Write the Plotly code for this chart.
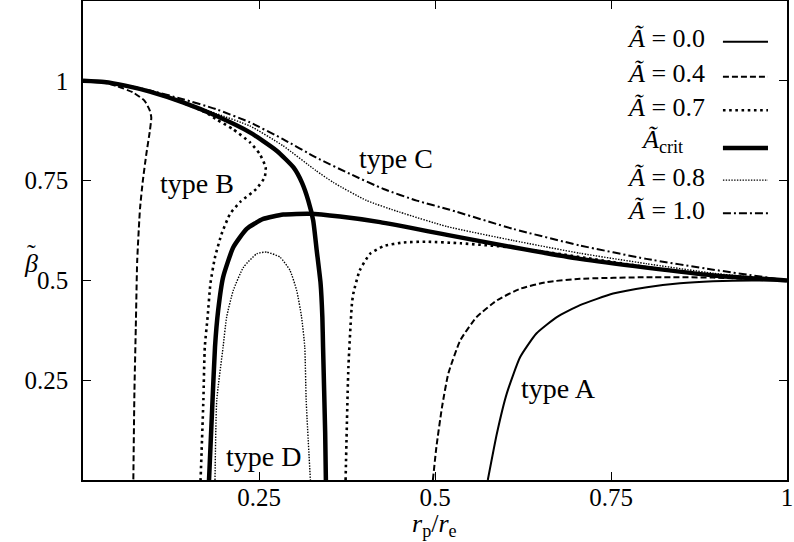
import plotly.graph_objects as go

# ---------------- data ----------------
# A = 0.0 (type A branch)
x_a00 = [0.575, 0.588, 0.602, 0.621, 0.644, 0.673, 0.706, 0.753, 0.801, 0.848, 0.895, 0.95, 1.0]
y_a00 = [0.0, 0.117, 0.217, 0.308, 0.367, 0.408, 0.438, 0.467, 0.483, 0.493, 0.498, 0.5, 0.5]

# A = 0.4 (type B branch, left)
x_a04_b = [0.0, 0.025, 0.047, 0.071, 0.0875, 0.095, 0.097, 0.095, 0.09, 0.085, 0.081, 0.077, 0.075, 0.073, 0.0715]
y_a04_b = [1.0, 0.997, 0.9875, 0.971, 0.95, 0.925, 0.908, 0.875, 0.817, 0.75, 0.68, 0.55, 0.383, 0.217, 0.0]
# A = 0.4 (type A branch, right)
x_a04_a = [0.497, 0.502, 0.510, 0.519, 0.536, 0.559, 0.588, 0.621, 0.659, 0.706, 0.801, 0.895, 1.0]
y_a04_a = [0.0, 0.083, 0.183, 0.267, 0.35, 0.408, 0.45, 0.479, 0.496, 0.504, 0.508, 0.507, 0.5]

# A = 0.7 (type B branch, left)
x_a07_b = [0.0, 0.03, 0.06, 0.095, 0.142, 0.175, 0.189, 0.213, 0.237, 0.251, 0.2595, 0.258, 0.246,
           0.223, 0.209, 0.197, 0.1875, 0.181, 0.177, 0.173, 0.171, 0.167]
y_a07_b = [1.0, 0.997, 0.988, 0.973, 0.945, 0.92, 0.904, 0.879, 0.846, 0.817, 0.783, 0.758, 0.729,
           0.696, 0.667, 0.617, 0.558, 0.492, 0.408, 0.333, 0.2, 0.0]
# A = 0.7 (type A branch, right)
x_a07_a = [0.373, 0.377, 0.382, 0.384, 0.393, 0.408, 0.427, 0.455, 0.488, 0.536, 0.607, 0.659, 0.753, 0.848, 0.943, 1.0]
y_a07_a = [0.0, 0.283, 0.442, 0.467, 0.525, 0.567, 0.586, 0.595, 0.597, 0.593, 0.583, 0.571, 0.546, 0.521, 0.507, 0.5]

# A_crit (two crossing branches)
x_crit_1 = [0.0, 0.03, 0.06, 0.095, 0.142, 0.189, 0.237, 0.275, 0.299, 0.311, 0.32, 0.327, 0.332, 0.3375, 0.340, 0.341, 0.344, 0.345]
y_crit_1 = [1.0, 0.997, 0.988, 0.973, 0.946, 0.9125, 0.871, 0.825, 0.783, 0.745, 0.70, 0.65, 0.575, 0.492, 0.408, 0.333, 0.117, 0.0]
x_crit_2 = [0.179, 0.184, 0.1875, 0.192, 0.199, 0.2135, 0.2325, 0.256, 0.2845, 0.322, 0.365, 0.422, 0.517, 0.611, 0.706, 0.80, 0.895, 1.0]
y_crit_2 = [0.0, 0.2, 0.333, 0.425, 0.508, 0.583, 0.629, 0.654, 0.665, 0.667, 0.66, 0.646, 0.614, 0.583, 0.554, 0.532, 0.5125, 0.5]

# A = 0.8 (type C branch)
x_a08_c = [0.0, 0.03, 0.06, 0.095, 0.142, 0.189, 0.237, 0.284, 0.331, 0.356, 0.403, 0.45, 0.517, 0.611, 0.706, 0.80, 0.895, 1.0]
y_a08_c = [1.0, 0.997, 0.988, 0.974, 0.948, 0.918, 0.887, 0.8375, 0.775, 0.745, 0.70, 0.671, 0.635, 0.60, 0.568, 0.542, 0.518, 0.5]
# A = 0.8 (type D loop)
x_a08_d = [0.1875, 0.19, 0.199, 0.204, 0.2135, 0.228, 0.247, 0.261, 0.28, 0.294, 0.3035, 0.3105, 0.315, 0.317, 0.323]
y_a08_d = [0.0, 0.2, 0.333, 0.408, 0.475, 0.533, 0.567, 0.571, 0.558, 0.525, 0.475, 0.408, 0.333, 0.2, 0.0]

# A = 1.0 (type C branch)
x_a10 = [0.0, 0.03, 0.06, 0.095, 0.142, 0.189, 0.237, 0.284, 0.331, 0.379, 0.427, 0.474, 0.521, 0.611, 0.706, 0.80, 0.895, 1.0]
y_a10 = [1.0, 0.997, 0.989, 0.976, 0.954, 0.929, 0.896, 0.854, 0.808, 0.767, 0.729, 0.70, 0.677, 0.629, 0.5875, 0.554, 0.527, 0.5]

x_ticks = [0.25, 0.5, 0.75, 1.0]
x_ticklabels = ["0.25", "0.5", "0.75", "1"]
y_ticks = [0.25, 0.5, 0.75, 1.0]
y_ticklabels = ["0.25", "0.5", "0.75", "1"]

legend_labels = ["<i>Ã</i> = 0.0", "<i>Ã</i> = 0.4", "<i>Ã</i> = 0.7", "<i>Ã</i><sub>crit</sub>",
                 "<i>Ã</i> = 0.8", "<i>Ã</i> = 1.0"]

region_labels = ["type A", "type B", "type C", "type D"]
region_x = [0.675, 0.162, 0.445, 0.256]
region_y = [0.228, 0.742, 0.805, 0.06]

# ---------------- styles ----------------
styles = {
    "a00": dict(width=2, dash="solid"),
    "a04": dict(width=2, dash="6px,3px"),
    "a07": dict(width=2.6, dash="2.6px,3.6px"),
    "crit": dict(width=4.5, dash="solid"),
    "a08": dict(width=1.4, dash="1.4px,1.4px"),
    "a10": dict(width=2, dash="8px,3px,2px,3px"),
}

FONT = "Liberation Serif"
fig = go.Figure()

def add(x, y, key):
    fig.add_trace(go.Scatter(x=x, y=y, mode="lines", showlegend=False, hoverinfo="skip",
                             line=dict(color="black", shape="spline", smoothing=0.5, **styles[key])))

add(x_a00, y_a00, "a00")
add(x_a04_b, y_a04_b, "a04")
add(x_a04_a, y_a04_a, "a04")
add(x_a07_b, y_a07_b, "a07")
add(x_a07_a, y_a07_a, "a07")
add(x_a08_c, y_a08_c, "a08")
add(x_a08_d, y_a08_d, "a08")
add(x_a10, y_a10, "a10")
add(x_crit_1, y_crit_1, "crit")
add(x_crit_2, y_crit_2, "crit")

# region labels
for t, xx, yy in zip(region_labels, region_x, region_y):
    fig.add_annotation(x=xx, y=yy, text=t, showarrow=False, font=dict(family=FONT, size=28, color="black"))

# manual gnuplot-style legend (text, then line sample at right)
keys = ["a00", "a04", "a07", "crit", "a08", "a10"]
rows_y = [0.915, 0.842, 0.772, 0.693, 0.626, 0.557]
for lab, key, ry in zip(legend_labels, keys, rows_y):
    if key == "crit":
        fig.add_annotation(x=0.822, y=ry + 0.014, xref="paper", yref="paper", text=lab, showarrow=False,
                           xanchor="center", yanchor="middle", font=dict(family=FONT, size=26, color="black"))
    else:
        fig.add_annotation(x=0.887, y=ry + 0.006, xref="paper", yref="paper", text=lab, showarrow=False,
                           xanchor="right", yanchor="middle", font=dict(family=FONT, size=26, color="black"))
    fig.add_shape(type="line", xref="paper", yref="paper", x0=0.909, x1=0.973, y0=ry, y1=ry,
                  line=dict(color="black", width=styles[key]["width"], dash=styles[key]["dash"]))

# y axis title (horizontal): beta with tilde above
fig.add_annotation(x=-0.086, y=0.451, xref="paper", yref="paper", text="<i>β</i>", showarrow=False,
                   font=dict(family=FONT, size=26, color="black"))
fig.add_annotation(x=-0.082, y=0.472, xref="paper", yref="paper", text="˜", showarrow=False,
                   font=dict(family=FONT, size=26, color="black"))
# x axis title
fig.add_annotation(x=0.4986, y=-0.093, xref="paper", yref="paper", text="<i>r</i><sub>p</sub>/<i>r</i><sub>e</sub>",
                   showarrow=False, yanchor="middle", font=dict(family=FONT, size=26, color="black"))

axis_common = dict(showgrid=False, zeroline=False, ticks="inside", ticklen=8, tickwidth=1,
                   tickcolor="black", showline=True, linecolor="black", linewidth=1.5, mirror="ticks",
                   automargin=False, tickfont=dict(family=FONT, size=25, color="black"))

fig.update_layout(
    width=794, height=542,
    margin=dict(l=83, r=7, t=1, b=62),
    plot_bgcolor="white", paper_bgcolor="white",
    xaxis=dict(range=[0, 1], tickvals=x_ticks, ticktext=x_ticklabels, ticklabelstandoff=-6, **axis_common),
    yaxis=dict(range=[0, 1.2], tickvals=y_ticks, ticktext=y_ticklabels, ticklabelstandoff=8, **axis_common),
)

fig.write_html("out.html", config={"displayModeBar": False},
               post_script="document.body.style.margin='0';")
